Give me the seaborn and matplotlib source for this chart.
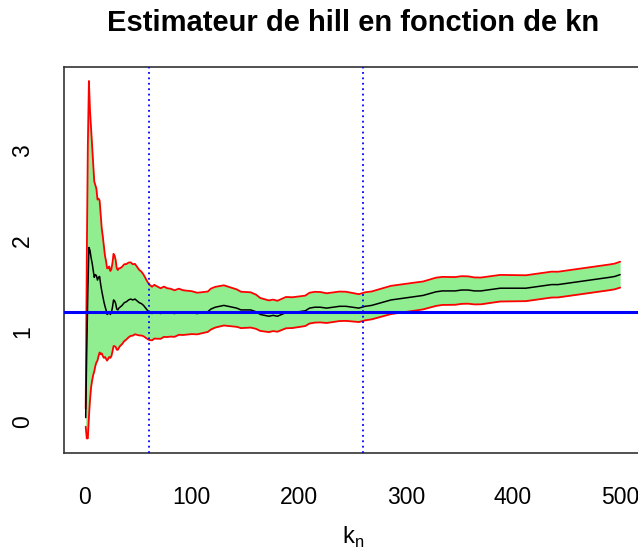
import matplotlib
matplotlib.use("Agg")
import matplotlib.pyplot as plt
import numpy as np
import pandas as pd
import seaborn as sns

# Hill estimator of the tail index as a function of k_n, with its 95 % band
k = [1, 2, 3, 4, 5, 6, 7, 8, 9, 10, 11, 12, 13, 14, 15, 16, 17, 18, 19, 20,
     21, 22, 23, 24, 25, 26, 27, 28, 29, 30, 31, 32, 33, 35, 37, 39, 41, 43,
     45, 47, 49, 51, 53, 55, 57, 59, 61, 63, 65, 68, 71, 74, 77, 80, 84, 88,
     92, 96, 100, 105, 110, 115, 118, 122, 126, 130, 134, 138, 142, 146, 150,
     155, 160, 164, 168, 172, 176, 180, 184, 188, 194, 200, 206, 210, 215,
     220, 226, 232, 238, 244, 250, 256, 262, 268, 274, 280, 286, 292, 298,
     304, 310, 316, 322, 328, 334, 340, 346, 352, 358, 364, 370, 376, 382,
     388, 394, 400, 406, 412, 418, 424, 430, 436, 442, 448, 454, 460, 466,
     472, 478, 484, 490, 495, 500]

hill = [0.05, 0.80, 1.45, 1.93, 1.90, 1.82, 1.76, 1.68, 1.60, 1.63, 1.62,
        1.57, 1.60, 1.61, 1.52, 1.45, 1.39, 1.33, 1.28, 1.24, 1.19, 1.20,
        1.22, 1.19, 1.21, 1.27, 1.35, 1.34, 1.31, 1.25, 1.24, 1.26, 1.27,
        1.29, 1.32, 1.33, 1.35, 1.36, 1.35, 1.36, 1.34, 1.32, 1.31, 1.29,
        1.26, 1.23, 1.21, 1.20, 1.22, 1.21, 1.20, 1.22, 1.21, 1.21, 1.20,
        1.22, 1.21, 1.21, 1.21, 1.20, 1.21, 1.22, 1.25, 1.27, 1.28, 1.29,
        1.28, 1.27, 1.26, 1.24, 1.24, 1.24, 1.22, 1.19, 1.18, 1.17, 1.18,
        1.17, 1.19, 1.21, 1.21, 1.22, 1.23, 1.26, 1.27, 1.27, 1.26, 1.27,
        1.28, 1.28, 1.27, 1.26, 1.28, 1.29, 1.31, 1.33, 1.35, 1.36, 1.37,
        1.38, 1.39, 1.40, 1.42, 1.44, 1.45, 1.45, 1.45, 1.46, 1.46, 1.45,
        1.45, 1.46, 1.47, 1.48, 1.48, 1.48, 1.48, 1.48, 1.49, 1.50, 1.51,
        1.52, 1.52, 1.53, 1.54, 1.55, 1.56, 1.57, 1.58, 1.59, 1.60, 1.61,
        1.63]

borne_sup = [0.15, 1.76, 3.05, 3.77, 3.45, 3.25, 3.06, 2.85, 2.66, 2.62,
             2.58, 2.46, 2.47, 2.45, 2.29, 2.14, 2.05, 1.95, 1.84, 1.78,
             1.70, 1.70, 1.72, 1.67, 1.69, 1.76, 1.86, 1.84, 1.79, 1.70,
             1.68, 1.70, 1.70, 1.717, 1.745, 1.747, 1.763, 1.766, 1.744,
             1.749, 1.715, 1.682, 1.663, 1.631, 1.587, 1.544, 1.514, 1.496,
             1.517, 1.498, 1.479, 1.498, 1.480, 1.475, 1.457, 1.475, 1.457,
             1.452, 1.447, 1.430, 1.436, 1.443, 1.476, 1.495, 1.503, 1.512,
             1.497, 1.482, 1.467, 1.441, 1.438, 1.435, 1.409, 1.372, 1.358,
             1.345, 1.354, 1.341, 1.362, 1.383, 1.380, 1.389, 1.398, 1.430,
             1.440, 1.438, 1.424, 1.433, 1.443, 1.441, 1.427, 1.414, 1.435,
             1.444, 1.465, 1.486, 1.506, 1.516, 1.526, 1.535, 1.545, 1.554,
             1.575, 1.596, 1.605, 1.604, 1.603, 1.613, 1.611, 1.599, 1.598,
             1.608, 1.617, 1.627, 1.626, 1.625, 1.624, 1.623, 1.633, 1.643,
             1.653, 1.663, 1.662, 1.672, 1.682, 1.692, 1.702, 1.712, 1.722,
             1.732, 1.742, 1.752, 1.773]

borne_inf = [-0.05, -0.18, -0.18, 0.05, 0.24, 0.38, 0.46, 0.52, 0.56, 0.62,
             0.66, 0.68, 0.73, 0.77, 0.75, 0.76, 0.73, 0.71, 0.72, 0.70,
             0.68, 0.70, 0.72, 0.71, 0.73, 0.78, 0.84, 0.84, 0.83, 0.80,
             0.80, 0.82, 0.84, 0.863, 0.895, 0.913, 0.937, 0.953, 0.956,
             0.971, 0.965, 0.958, 0.957, 0.949, 0.933, 0.916, 0.906, 0.904,
             0.923, 0.922, 0.921, 0.942, 0.940, 0.945, 0.943, 0.965, 0.963,
             0.968, 0.973, 0.970, 0.984, 0.997, 1.024, 1.045, 1.057, 1.068,
             1.063, 1.058, 1.053, 1.039, 1.042, 1.045, 1.031, 1.008, 1.002,
             0.995, 1.006, 0.999, 1.018, 1.037, 1.040, 1.051, 1.062, 1.090,
             1.100, 1.102, 1.096, 1.107, 1.117, 1.119, 1.113, 1.106, 1.125,
             1.136, 1.155, 1.174, 1.194, 1.204, 1.214, 1.225, 1.235, 1.246,
             1.265, 1.284, 1.295, 1.296, 1.297, 1.307, 1.309, 1.301, 1.302,
             1.312, 1.323, 1.333, 1.334, 1.335, 1.336, 1.337, 1.347, 1.357,
             1.367, 1.377, 1.378, 1.388, 1.398, 1.408, 1.418, 1.428, 1.438,
             1.448, 1.458, 1.468, 1.487]

valeur_ref = 1.215          # horizontal reference level
k_choisis = [60, 260]       # vertical dotted markers
x_ticks = [0, 100, 200, 300, 400, 500]
y_ticks = [0, 1, 2, 3]

df = pd.DataFrame({"k": k, "hill": hill, "sup": borne_sup, "inf": borne_inf})

sns.set_theme(style="white")
plt.rcParams["font.family"] = ["Liberation Sans", "DejaVu Sans"]
plt.rcParams["mathtext.fontset"] = "custom"
plt.rcParams["mathtext.rm"] = "Liberation Sans"
plt.rcParams["text.color"] = "black"
plt.rcParams["axes.labelcolor"] = "black"

fig = plt.figure(figsize=(6.38, 5.49), dpi=100)
ax = fig.add_axes([0.1008, 0.1754, 0.9047, 0.7031])

ax.fill_between(df["k"], df["inf"], df["sup"], color="#90EE90", lw=0, zorder=1)
sns.lineplot(data=df, x="k", y="sup", color="#FF0000", lw=1.3, ax=ax, zorder=2)
sns.lineplot(data=df, x="k", y="inf", color="#FF0000", lw=1.3, ax=ax, zorder=2)
sns.lineplot(data=df, x="k", y="hill", color="black", lw=1.1, ax=ax, zorder=3)
ax.axhline(valeur_ref, color="#0000FF", lw=2.2, zorder=4)
for kv in k_choisis:
    ax.axvline(kv, color="#0000FF", lw=1.3, ls=(0, (1, 2)), zorder=4)

# axis ranges padded by 4 % like base graphics
xr = max(k) - min(k)
ax.set_xlim(min(k) - 0.04 * xr, max(k) + 0.04 * xr)
ymin, ymax = min(borne_inf), max(borne_sup)
yr = ymax - ymin
ax.set_ylim(ymin - 0.04 * yr, ymax + 0.04 * yr)

ax.set_xticks(x_ticks)
ax.set_xticklabels([str(v) for v in x_ticks])
ax.set_yticks(y_ticks)
ax.set_yticklabels([str(v) for v in y_ticks], rotation=90, va="center")
ax.tick_params(axis="both", direction="out", length=10, width=1.2,
               color="#333333", labelsize=16.5, labelcolor="black")
ax.tick_params(axis="x", pad=14)
ax.tick_params(axis="y", pad=12)

for sp in ax.spines.values():
    sp.set_visible(True)
    sp.set_color("#333333")
    sp.set_linewidth(1.2)

ax.set_xlabel(r"$\mathrm{k}_\mathrm{n}$", fontsize=17, labelpad=11,
              color="black")
ax.set_ylabel("")
ax.set_title("Estimateur de hill en fonction de kn", fontsize=21,
             fontweight="bold", pad=26, color="black")

fig.savefig("out.png", dpi=100)
